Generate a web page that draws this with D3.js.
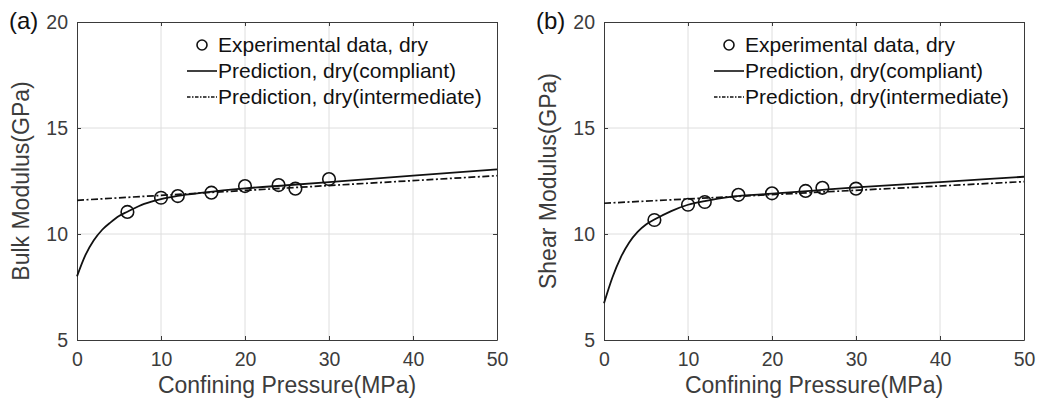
<!DOCTYPE html>
<html>
<head>
<meta charset="utf-8">
<script src="https://cdn.jsdelivr.net/npm/d3@7"></script>
<style>
  body { margin: 0; background: #fff; }
  text { font-family: "Liberation Sans", Arial, Helvetica, sans-serif; }
</style>
</head>
<body>
<div id="chart"></div>
<script>
// pressure values of the experimental points (MPa)
var expP = [6, 10, 12, 16, 20, 24, 26, 30];
// panel (a) bulk modulus, GPa
var bulkExp = [11.04, 11.71, 11.79, 11.95, 12.26, 12.31, 12.14, 12.59];
var curveP = [0, 1, 2, 3, 4, 5, 6, 8, 10, 12, 15, 20, 25, 30, 40, 50];
var bulkCompliant = [8.0, 9.0, 9.7, 10.2, 10.55, 10.85, 11.05, 11.42, 11.65, 11.8, 11.95, 12.15, 12.3, 12.45, 12.75, 13.05];
var lineP = [0, 50];
var bulkIntermediate = [11.59, 12.75];
// panel (b) shear modulus, GPa
var shearExp = [10.66, 11.38, 11.51, 11.85, 11.92, 12.03, 12.18, 12.14];
var shearCompliant = [6.73, 7.95, 8.9, 9.6, 10.1, 10.45, 10.68, 11.08, 11.38, 11.55, 11.75, 11.9, 12.05, 12.2, 12.45, 12.7];
var shearIntermediate = [11.45, 12.47];

var xTicks = [0, 10, 20, 30, 40, 50];
var yTicks = [5, 10, 15, 20];
var legendLabels = ["Experimental data, dry", "Prediction, dry(compliant)", "Prediction, dry(intermediate)"];

var W = 1039, H = 402;
var svg = d3.select("#chart").append("svg")
    .attr("width", W)
    .attr("height", H);

var axisColor = "#3a3a3a";
var textColor = "#3c3c3c";

function drawPanel(opt) {
  var x = d3.scaleLinear().domain([0, 50]).range([opt.left, opt.right]);
  var y = d3.scaleLinear().domain([5, 20]).range([340, 22]);
  var g = svg.append("g");

  // grid
  g.append("g").selectAll("line.gx")
    .data(xTicks.slice(1, -1)).enter().append("line")
    .attr("x1", d => x(d)).attr("x2", d => x(d))
    .attr("y1", y(5)).attr("y2", y(20))
    .attr("stroke", "#dedede").attr("stroke-width", 1);
  g.append("g").selectAll("line.gy")
    .data(yTicks.slice(1, -1)).enter().append("line")
    .attr("x1", x(0)).attr("x2", x(50))
    .attr("y1", d => y(d)).attr("y2", d => y(d))
    .attr("stroke", "#dedede").attr("stroke-width", 1);

  // axes (ticks inward, box on)
  var tl = 4;
  g.append("g").attr("transform", "translate(0," + y(5) + ")")
    .call(d3.axisBottom(x).tickValues(xTicks).tickSizeInner(-tl).tickSizeOuter(0).tickPadding(12))
    .call(a => a.select(".domain").attr("stroke", axisColor))
    .call(a => a.selectAll("line").attr("stroke", axisColor))
    .call(a => a.selectAll("text").attr("fill", textColor).style("font-size", "19.5px").attr("font-family", null));
  g.append("g").attr("transform", "translate(0," + y(20) + ")")
    .call(d3.axisTop(x).tickValues(xTicks).tickSizeInner(-tl).tickSizeOuter(0).tickFormat(""))
    .call(a => a.select(".domain").attr("stroke", axisColor))
    .call(a => a.selectAll("line").attr("stroke", axisColor));
  g.append("g").attr("transform", "translate(" + x(0) + ",0)")
    .call(d3.axisLeft(y).tickValues(yTicks).tickSizeInner(-tl).tickSizeOuter(0).tickPadding(9))
    .call(a => a.select(".domain").attr("stroke", axisColor))
    .call(a => a.selectAll("line").attr("stroke", axisColor))
    .call(a => a.selectAll("text").attr("fill", textColor).style("font-size", "19.5px").attr("font-family", null));
  g.append("g").attr("transform", "translate(" + x(50) + ",0)")
    .call(d3.axisRight(y).tickValues(yTicks).tickSizeInner(-tl).tickSizeOuter(0).tickFormat(""))
    .call(a => a.select(".domain").attr("stroke", axisColor))
    .call(a => a.selectAll("line").attr("stroke", axisColor));

  // curves
  var line = d3.line().x(d => x(d[0])).y(d => y(d[1])).curve(d3.curveMonotoneX);
  g.append("path")
    .datum(lineP.map((p, i) => [p, opt.inter[i]]))
    .attr("d", line).attr("fill", "none")
    .attr("stroke", "#111").attr("stroke-width", 1.7)
    .attr("stroke-dasharray", "7,2.5,2,2.5");
  g.append("path")
    .datum(curveP.map((p, i) => [p, opt.comp[i]]))
    .attr("d", line).attr("fill", "none")
    .attr("stroke", "#111").attr("stroke-width", 1.8);

  // experimental points
  g.append("g").selectAll("circle")
    .data(expP.map((p, i) => [p, opt.exp[i]])).enter().append("circle")
    .attr("cx", d => x(d[0])).attr("cy", d => y(d[1]))
    .attr("r", 6.3).attr("fill", "none")
    .attr("stroke", "#111").attr("stroke-width", 1.6);

  // legend
  var lx = x(50) - 279;
  var rows = [45, 71, 97];
  g.append("circle").attr("cx", lx - 16).attr("cy", rows[0])
    .attr("r", 5).attr("fill", "none").attr("stroke", "#111").attr("stroke-width", 1.6);
  g.append("line").attr("x1", lx - 31).attr("x2", lx - 1)
    .attr("y1", rows[1]).attr("y2", rows[1])
    .attr("stroke", "#111").attr("stroke-width", 1.6);
  g.append("line").attr("x1", lx - 31).attr("x2", lx - 1)
    .attr("y1", rows[2]).attr("y2", rows[2])
    .attr("stroke", "#111").attr("stroke-width", 1.3)
    .attr("stroke-dasharray", "3.5,1.5,1.5,1.5");
  g.append("g").selectAll("text")
    .data(legendLabels).enter().append("text")
    .attr("x", lx).attr("y", (d, i) => rows[i])
    .attr("dy", "0.35em")
    .style("font-size", "21px").attr("fill", "#111")
    .text(d => d);

  // axis labels
  g.append("text")
    .attr("x", (x(0) + x(50)) / 2).attr("y", 393)
    .attr("text-anchor", "middle")
    .style("font-size", "23px").attr("fill", textColor)
    .text("Confining Pressure(MPa)");
  g.append("text")
    .attr("transform", "translate(" + (x(0) - 48) + "," + ((y(5) + y(20)) / 2) + ")rotate(-90)")
    .attr("text-anchor", "middle")
    .style("font-size", "23px").attr("fill", textColor)
    .text(opt.ylabel);

  // panel label
  g.append("text")
    .attr("x", opt.tagX).attr("y", 29)
    .style("font-size", "24px").attr("fill", "#111")
    .text(opt.tag);
}

drawPanel({left: 77, right: 497, exp: bulkExp, comp: bulkCompliant, inter: bulkIntermediate,
  ylabel: "Bulk Modulus(GPa)", tag: "(a)", tagX: 9});
drawPanel({left: 604, right: 1024, exp: shearExp, comp: shearCompliant, inter: shearIntermediate,
  ylabel: "Shear Modulus(GPa)", tag: "(b)", tagX: 536});
</script>
</body>
</html>
